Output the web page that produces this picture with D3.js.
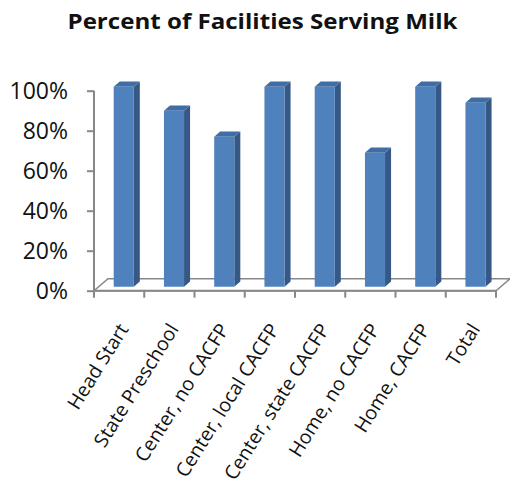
<!DOCTYPE html>
<html>
<head>
<meta charset="utf-8">
<script src="https://cdn.jsdelivr.net/npm/d3@7"></script>
<style>
  html, body { margin: 0; padding: 0; background: #fff; }
  svg { display: block; }
</style>
</head>
<body>
<svg id="chart" width="510" height="492"></svg>
<script>
// Share of facilities serving milk, by facility type
const categories = ["Head Start", "State Preschool", "Center, no CACFP", "Center, local CACFP",
                    "Center, state CACFP", "Home, no CACFP", "Home, CACFP", "Total"];
const percentServingMilk = [1.00, 0.88, 0.75, 1.00, 1.00, 0.67, 1.00, 0.92];
const yTicks = [0, 0.2, 0.4, 0.6, 0.8, 1.0];

const svg = d3.select("#chart");
const axisColor = "#878787";
const fontFamily = "'Open Sans', 'Noto Sans', sans-serif";

// Plot frame (front plane of the 3-D floor)
const plotLeft = 94, plotRight = 496, plotTop = 90.7, plotBottom = 290.7;
// Depth of the floor, as a screen offset
const depth = { dx: 14, dy: -12 };
// Bars occupy this slice of the floor depth
const barFront = 0.33, barBack = 0.76;

const x = d3.scaleBand().domain(categories).range([plotLeft, plotRight]).padding(0);
const y = d3.scaleLinear().domain([0, 1]).range([plotBottom, plotTop]);
const barW = x.bandwidth() * 0.4;

// Title (wide bold lettering)
svg.append("text")
  .attr("x", 262.5).attr("y", 29)
  .attr("text-anchor", "middle")
  .attr("font-family", fontFamily)
  .attr("font-weight", "bold")
  .attr("font-size", 21)
  .attr("textLength", 390)
  .attr("lengthAdjust", "spacingAndGlyphs")
  .attr("fill", "#111")
  .text("Percent of Facilities Serving Milk");

// Floor
svg.append("polygon")
  .attr("points", [
    [plotLeft, plotBottom], [plotRight, plotBottom],
    [plotRight + depth.dx, plotBottom + depth.dy], [plotLeft + depth.dx, plotBottom + depth.dy]
  ].map(p => p.join(",")).join(" "))
  .attr("fill", "#fff")
  .attr("stroke", axisColor)
  .attr("stroke-width", 1.5);

// Value axis
const yAxis = d3.axisLeft(y)
  .tickValues(yTicks)
  .tickFormat(d3.format(".0%"))
  .tickSize(7)
  .tickPadding(19);
const gy = svg.append("g").attr("transform", `translate(${plotLeft},0)`).call(yAxis);
gy.select(".domain").attr("stroke", axisColor).attr("stroke-width", 2).attr("d", `M0,${plotTop}V${plotBottom}`);
gy.selectAll(".tick line").attr("stroke", axisColor).attr("stroke-width", 2);
gy.selectAll(".tick text")
  .attr("font-family", fontFamily)
  .attr("font-size", 23)
  .attr("fill", "#111");

// Category axis ticks at band boundaries
const boundaries = categories.map(c => x(c)).concat([plotRight]);
svg.append("g").selectAll("line")
  .data(boundaries)
  .join("line")
  .attr("x1", d => d).attr("x2", d => d)
  .attr("y1", plotBottom).attr("y2", plotBottom + 7)
  .attr("stroke", axisColor)
  .attr("stroke-width", 2);
svg.append("line")
  .attr("x1", plotLeft).attr("x2", plotRight)
  .attr("y1", plotBottom).attr("y2", plotBottom)
  .attr("stroke", axisColor).attr("stroke-width", 2);

// 3-D bars
const data = categories.map((c, i) => ({ cat: c, v: percentServingMilk[i] }));
const bars = svg.append("g").selectAll("g").data(data).join("g");

function geom(d) {
  const x0 = x(d.cat) + (x.bandwidth() - barW) / 2 + depth.dx * barFront;
  const x1 = x0 + barW;
  const yb = y(0) + depth.dy * barFront;
  const yt = y(d.v) + depth.dy * barFront;
  const ox = depth.dx * (barBack - barFront), oy = depth.dy * (barBack - barFront);
  return { x0, x1, yb, yt, ox, oy };
}
const pts = a => a.map(p => p.join(",")).join(" ");

bars.append("polygon") // side face
  .attr("points", d => { const g = geom(d);
    return pts([[g.x1, g.yt], [g.x1 + g.ox, g.yt + g.oy], [g.x1 + g.ox, g.yb + g.oy], [g.x1, g.yb]]); })
  .attr("fill", "#355886");
bars.append("polygon") // top face
  .attr("points", d => { const g = geom(d);
    return pts([[g.x0, g.yt], [g.x0 + g.ox, g.yt + g.oy], [g.x1 + g.ox, g.yt + g.oy], [g.x1, g.yt]]); })
  .attr("fill", "#416DA6");
bars.append("rect") // front face
  .attr("x", d => geom(d).x0)
  .attr("y", d => geom(d).yt)
  .attr("width", barW)
  .attr("height", d => geom(d).yb - geom(d).yt)
  .attr("fill", "#4F81BD");

// Category labels, slanted
svg.append("g").selectAll("text")
  .data(categories)
  .join("text")
  .attr("transform", d => `translate(${x(d) + x.bandwidth() / 2 + 10},329) rotate(-58)`)
  .attr("text-anchor", "end")
  .attr("font-family", fontFamily)
  .attr("font-size", 19.5)
  .attr("fill", "#111")
  .text(d => d);
</script>
</body>
</html>
